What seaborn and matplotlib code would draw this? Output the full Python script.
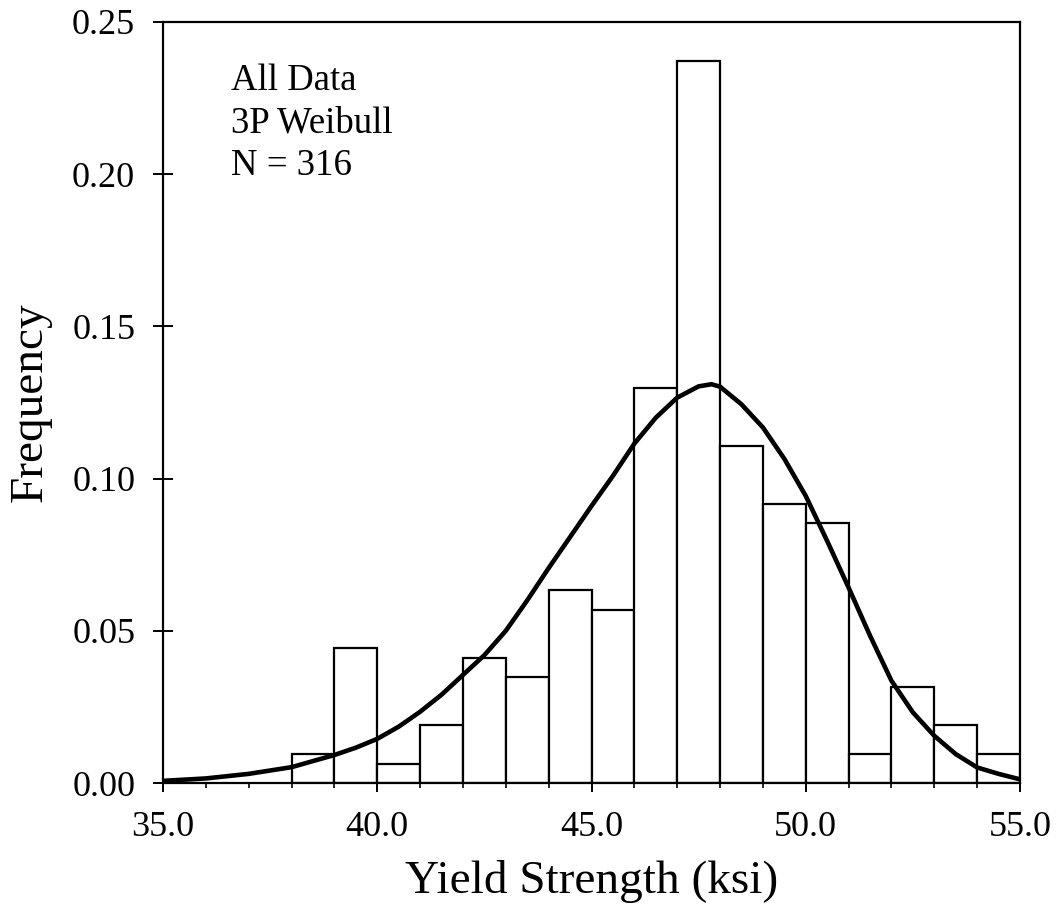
import matplotlib
matplotlib.use("Agg")
import matplotlib.pyplot as plt
import seaborn as sns
import pandas as pd
from matplotlib.ticker import MultipleLocator, FormatStrFormatter

# ---- data ----
bin_lefts = [38, 39, 40, 41, 42, 43, 44, 45, 46, 47, 48, 49, 50, 51, 52, 53, 54]
counts = [3, 14, 2, 6, 13, 11, 20, 18, 41, 75, 35, 29, 27, 3, 10, 6, 3]
n_total = 316

curve_x = [35, 36, 37, 38, 39, 39.5, 40, 40.5, 41, 41.5, 42, 42.5, 43, 43.5, 44,
           44.5, 45, 45.5, 46, 46.5, 47, 47.5, 47.8, 48, 48.5, 49, 49.5, 50,
           50.5, 51, 51.5, 52, 52.5, 53, 53.5, 54, 54.5, 55]
curve_y = [0.0007, 0.0015, 0.003, 0.0052, 0.0092, 0.0116, 0.0145, 0.0185, 0.0234,
           0.029, 0.0355, 0.0420, 0.0500, 0.0600, 0.0706, 0.0808, 0.0910, 0.1009,
           0.1115, 0.1200, 0.1266, 0.1303, 0.1310, 0.1302, 0.1244, 0.1168, 0.1065,
           0.0943, 0.0795, 0.0642, 0.0484, 0.0336, 0.0232, 0.0155, 0.0095, 0.0051,
           0.0030, 0.0012]

annotation_lines = ["All Data", "3P Weibull", "N = 316"]
x_label = "Yield Strength (ksi)"
y_label = "Frequency"

# ---- plotting ----
sns.set_theme(style="white")
plt.rcParams["font.family"] = ["Liberation Serif", "DejaVu Serif"]
plt.rcParams["text.color"] = "black"
plt.rcParams["axes.labelcolor"] = "black"
plt.rcParams["xtick.color"] = "black"
plt.rcParams["ytick.color"] = "black"

fig = plt.figure(figsize=(10.57, 9.07), dpi=100)
ax = fig.add_axes([163 / 1057, 1 - 783 / 907, (1020 - 163) / 1057, (783 - 22) / 907])

hist_df = pd.DataFrame({
    "x": [b + 0.5 for b in bin_lefts],
    "w": [c / n_total for c in counts],
})
edges = bin_lefts + [bin_lefts[-1] + 1]
sns.histplot(data=hist_df, x="x", weights="w", bins=edges, stat="count",
             fill=True, color="white", edgecolor="black", linewidth=1.6,
             alpha=1.0, ax=ax, zorder=2)

curve_df = pd.DataFrame({"x": curve_x, "y": curve_y})
sns.lineplot(data=curve_df, x="x", y="y", color="black", linewidth=3.3,
             ax=ax, zorder=3, sort=True)

ax.set_xlim(35, 55)
ax.set_ylim(0, 0.25)

ax.xaxis.set_major_locator(MultipleLocator(5))
ax.xaxis.set_minor_locator(MultipleLocator(1))
ax.xaxis.set_major_formatter(FormatStrFormatter("%.1f"))
ax.yaxis.set_major_locator(MultipleLocator(0.05))
ax.yaxis.set_major_formatter(FormatStrFormatter("%.2f"))

ax.tick_params(axis="x", which="major", direction="out", length=6.5, width=1.4,
               labelsize=26, pad=14, colors="black", bottom=True)
ax.tick_params(axis="x", which="minor", direction="out", length=3.6, width=1.2,
               colors="black", bottom=True)
ax.tick_params(axis="y", which="major", direction="inout", length=14, width=1.4,
               labelsize=26, pad=13, colors="black", left=True)

for s in ax.spines.values():
    s.set_visible(True)
    s.set_color("black")
    s.set_linewidth(1.6)

ax.set_xlabel(x_label, fontsize=34, labelpad=11, color="black")
ax.set_ylabel(y_label, fontsize=34, labelpad=15, color="black")
ax.grid(False)

ax.text(0.079, 0.945, "\n".join(annotation_lines), transform=ax.transAxes,
        fontsize=26.5, va="top", ha="left", linespacing=1.3, color="black")

fig.savefig("out.png", dpi=100, facecolor="white")
